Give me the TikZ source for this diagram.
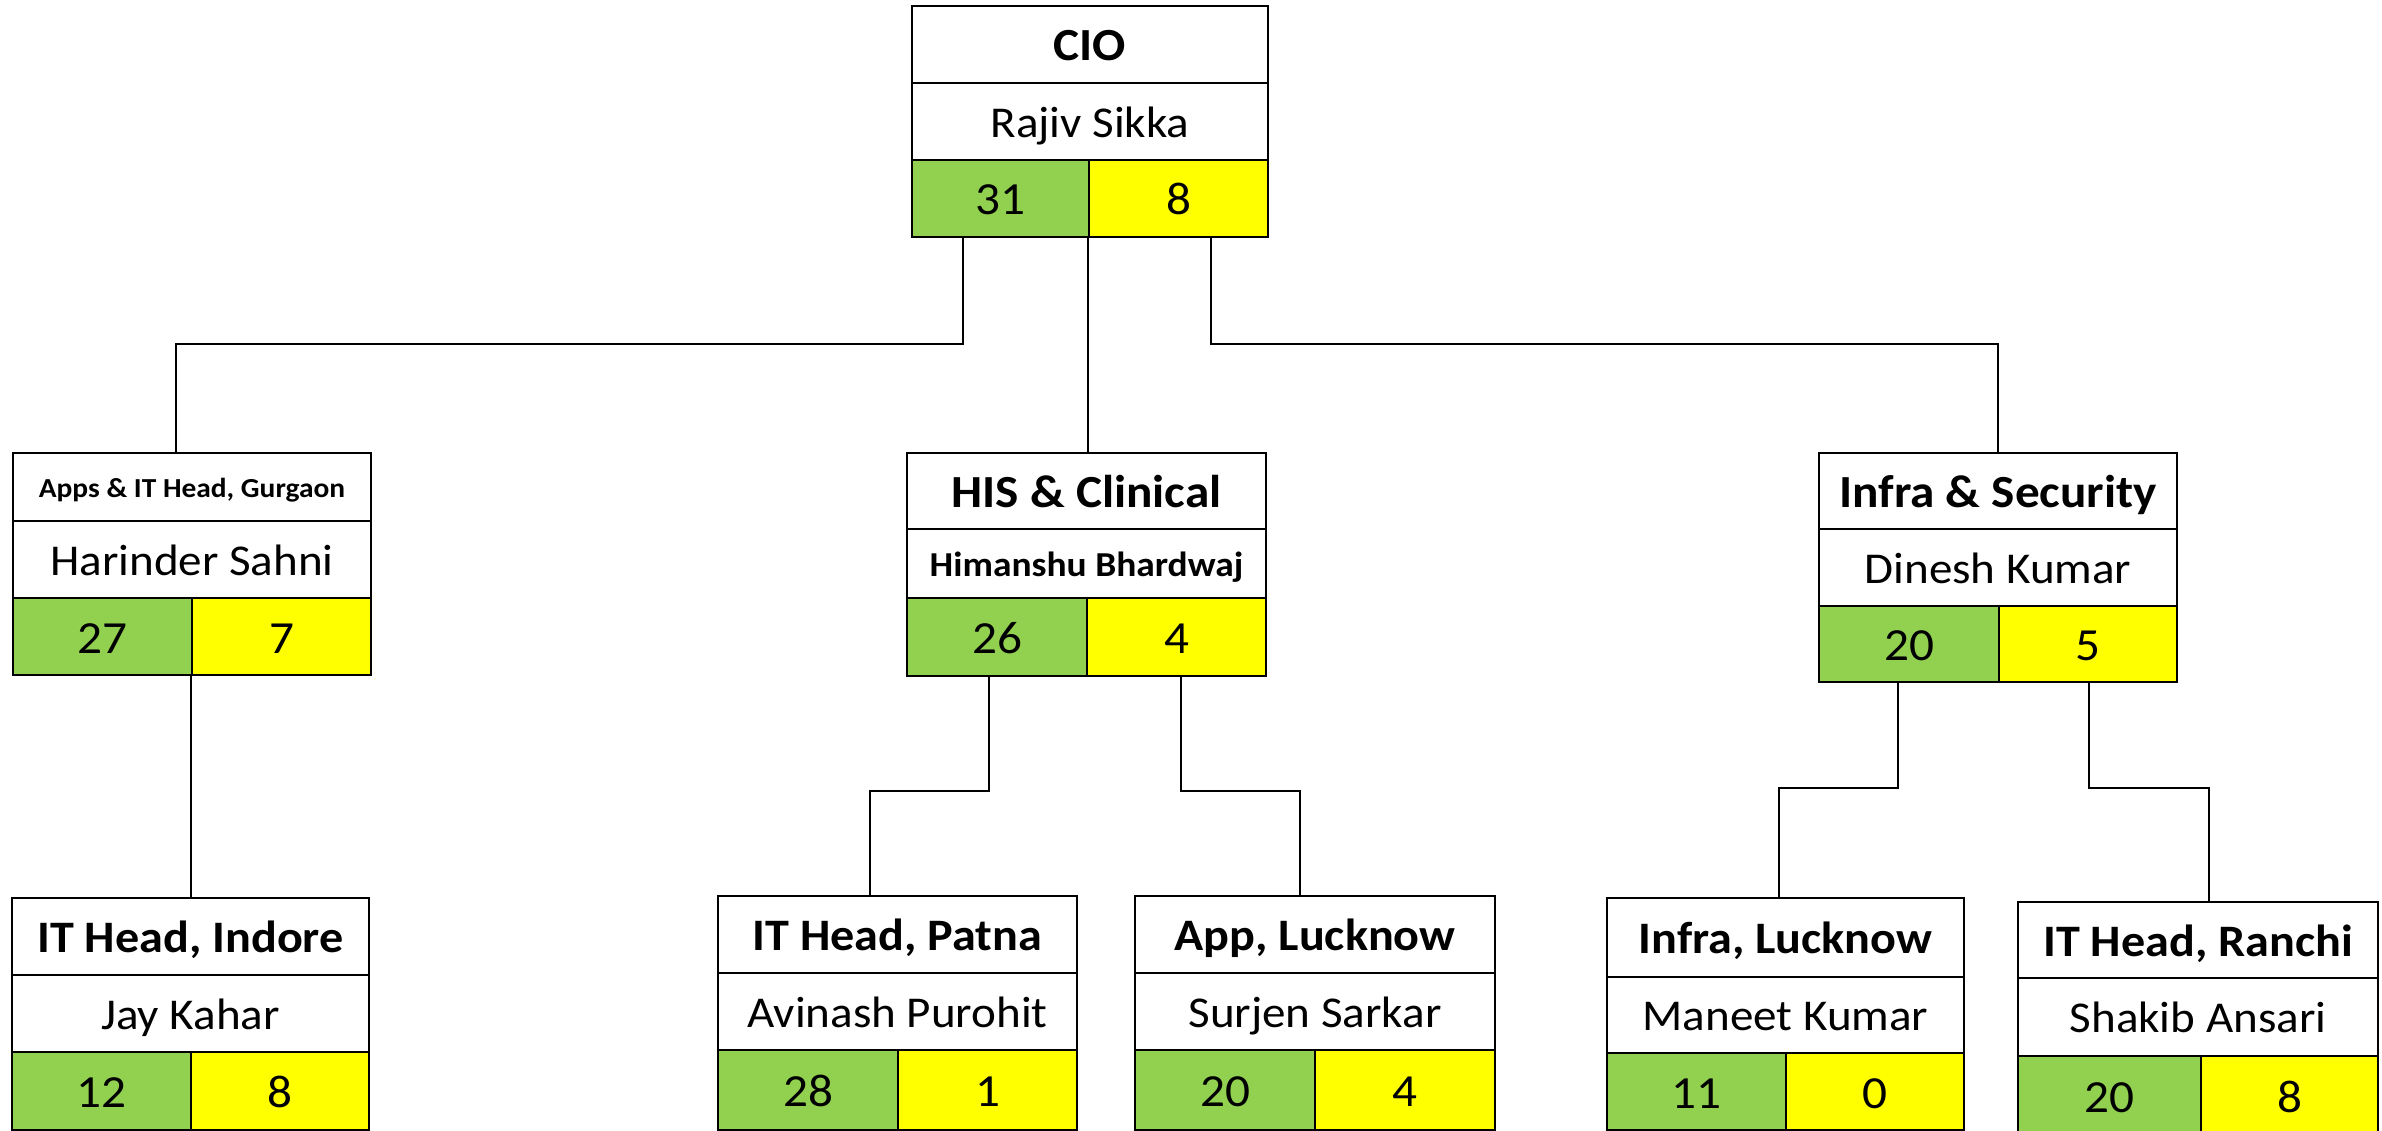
\documentclass[tikz,border=0pt]{standalone}
\usepackage{fontspec}
\setmainfont{Carlito}[FakeStretch=1.07]
\definecolor{grn}{HTML}{92D050}
\definecolor{ylw}{HTML}{FFFF00}
\tikzset{
  frame/.style={draw=black, line width=2.5pt, line join=miter},
  conn/.style={draw=black, line width=1.5pt},
  txt/.style={inner sep=0pt, outer sep=0pt, anchor=center, text depth=0pt, yshift=-2pt},
  ttlL/.style={txt, font=\bfseries\fontsize{46}{50}\selectfont, text height=29pt},
  ttlB/.style={txt, font=\bfseries\fontsize{45}{50}\selectfont, text height=28.4pt},
  ttlM/.style={txt, font=\bfseries\fontsize{35}{40}\selectfont, text height=22.1pt},
  ttlS/.style={txt, font=\bfseries\fontsize{27.5}{30}\selectfont, text height=17.4pt},
  nm/.style={txt, font=\fontsize{44}{50}\selectfont, text height=27.8pt},
  num/.style={txt, font=\fontsize{46}{50}\selectfont, text height=29pt},
}
\begin{document}
\begin{tikzpicture}[x=1pt, y=-1pt]
\useasboundingbox (0,0) rectangle (2382,1131);

% whole-box nodes and cells
\foreach \nm/\l/\r/\t/\a/\b/\e/\m in {
  cio/912/1268/6/83/160/237/1089,
  harinder/13/371/453/521/598/675/192,
  his/907/1266/453/529/598/676/1087,
  infra/1819/2177/453/529/606/682/1999,
  jay/12/369/898/975/1052/1130/191,
  avinash/718/1077/896/973/1050/1130/898,
  app/1135/1495/896/973/1050/1130/1315,
  maneet/1607/1964/898/977/1053/1130/1786,
  shakib/2018/2378/902/978/1056/1135/2201}{
  \node[inner sep=0pt, outer sep=0pt, anchor=north west,
        minimum width={\r-\l}, minimum height={\e-\t}] (\nm) at (\l,\t) {};
  \coordinate (\nm-r1) at ({(\l+\r)/2},{(\t+\a)/2});
  \coordinate (\nm-r2) at ({(\l+\r)/2},{(\a+\b)/2});
  \coordinate (\nm-g) at ({(\l+\m)/2},{(\b+\e)/2});
  \coordinate (\nm-y) at ({(\m+\r)/2},{(\b+\e)/2});
}

% connectors
\draw[conn] (cio.south -| 963,0) -- (963,344) -| (harinder.north -| 176,0);
\draw[conn] (cio.south -| 1088,0) -- (his.north -| 1088,0);
\draw[conn] (cio.south -| 1211,0) -- (1211,344) -| (infra.north -| 1998,0);
\draw[conn] (harinder.south -| 191,0) -- (jay.north -| 191,0);
\draw[conn] (his.south -| 989,0) -- (989,791) -| (avinash.north -| 870,0);
\draw[conn] (his.south -| 1181,0) -- (1181,791) -| (app.north -| 1300,0);
\draw[conn] (infra.south -| 1898,0) -- (1898,788) -| (maneet.north -| 1779,0);
\draw[conn] (infra.south -| 2089,0) -- (2089,788) -| (shakib.north -| 2209,0);

% boxes
\foreach \l/\r/\t/\a/\b/\e/\m in {
  912/1268/6/83/160/237/1089,
  13/371/453/521/598/675/192,
  907/1266/453/529/598/676/1087,
  1819/2177/453/529/606/682/1999,
  12/369/898/975/1052/1130/191,
  718/1077/896/973/1050/1130/898,
  1135/1495/896/973/1050/1130/1315,
  1607/1964/898/977/1053/1130/1786,
  2018/2378/902/978/1056/1135/2201}{
  \fill[white] (\l,\t) rectangle (\r,\b);
  \fill[grn] (\l,\b) rectangle (\m,\e);
  \fill[ylw] (\m,\b) rectangle (\r,\e);
  \draw[frame] (\l,\t) rectangle (\r,\e);
  \draw[frame] (\l,\a) -- (\r,\a) (\l,\b) -- (\r,\b) (\m,\b) -- (\m,\e);
}

% texts
\node[ttlL] (cio-title) at (cio-r1) {CIO};
\node[nm] (cio-name) at (cio-r2) {Rajiv Sikka};
\node[num] (cio-n1) at (cio-g) {31};
\node[num] (cio-n2) at (cio-y) {8};

\node[ttlS] (harinder-title) at (harinder-r1) {Apps \& IT Head, Gurgaon};
\node[nm] (harinder-name) at (harinder-r2) {Harinder Sahni};
\node[num] (harinder-n1) at (harinder-g) {27};
\node[num] (harinder-n2) at (harinder-y) {7};

\node[ttlL] (his-title) at (his-r1) {HIS \& Clinical};
\node[ttlM] (his-name) at (his-r2) {Himanshu Bhardwaj};
\node[num] (his-n1) at (his-g) {26};
\node[num] (his-n2) at (his-y) {4};

\node[ttlL] (infra-title) at (infra-r1) {Infra \& Security};
\node[nm] (infra-name) at (infra-r2) {Dinesh Kumar};
\node[num] (infra-n1) at (infra-g) {20};
\node[num] (infra-n2) at (infra-y) {5};

\node[ttlB] (jay-title) at (jay-r1) {IT Head, Indore};
\node[nm] (jay-name) at (jay-r2) {Jay Kahar};
\node[num] (jay-n1) at (jay-g) {12};
\node[num] (jay-n2) at (jay-y) {8};

\node[ttlB] (avinash-title) at (avinash-r1) {IT Head, Patna};
\node[nm] (avinash-name) at (avinash-r2) {Avinash Purohit};
\node[num] (avinash-n1) at (avinash-g) {28};
\node[num] (avinash-n2) at (avinash-y) {1};

\node[ttlB] (app-title) at (app-r1) {App, Lucknow};
\node[nm] (app-name) at (app-r2) {Surjen Sarkar};
\node[num] (app-n1) at (app-g) {20};
\node[num] (app-n2) at (app-y) {4};

\node[ttlB] (maneet-title) at (maneet-r1) {Infra, Lucknow};
\node[nm] (maneet-name) at (maneet-r2) {Maneet Kumar};
\node[num] (maneet-n1) at (maneet-g) {11};
\node[num] (maneet-n2) at (maneet-y) {0};

\node[ttlB] (shakib-title) at (shakib-r1) {IT Head, Ranchi};
\node[nm] (shakib-name) at (shakib-r2) {Shakib Ansari};
\node[num] (shakib-n1) at (shakib-g) {20};
\node[num] (shakib-n2) at (shakib-y) {8};
\end{tikzpicture}
\end{document}
